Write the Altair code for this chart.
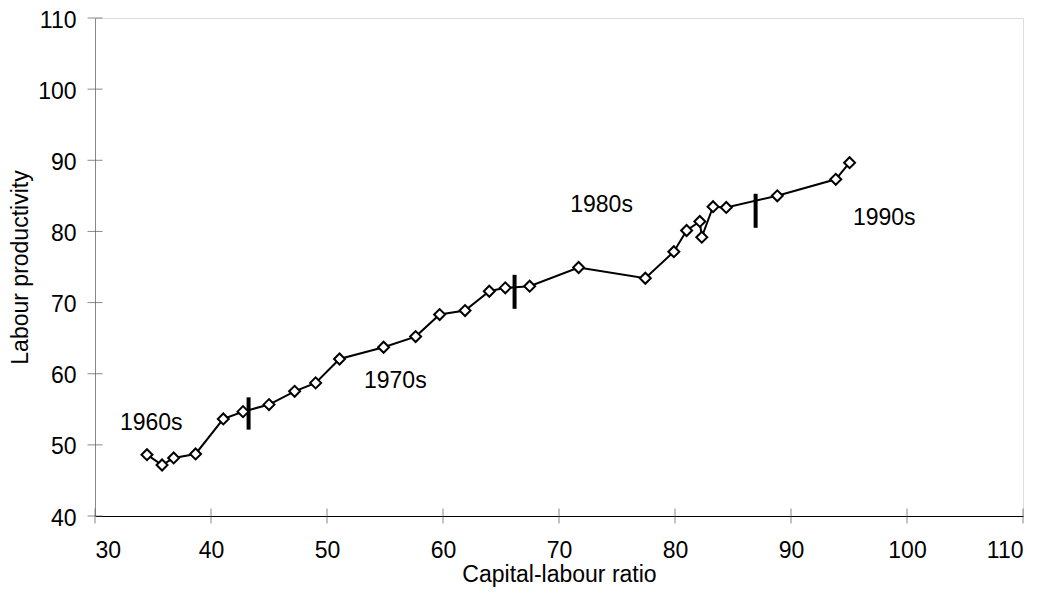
import altair as alt
import pandas as pd

# Capital-labour ratio (x) and labour productivity (y), chronological order
capital = [34.48, 35.78, 36.78, 38.67, 41.06, 42.76, 45.00, 47.21, 49.02, 51.08,
           54.88, 57.64, 59.71, 61.90, 63.99, 65.37, 67.47, 71.69, 77.44, 79.90,
           81.00, 82.14, 82.31, 83.28, 84.42, 88.82, 93.86, 95.05]
productivity = [48.62, 47.17, 48.16, 48.72, 53.64, 54.67, 55.66, 57.53, 58.71, 62.07,
                63.72, 65.22, 68.32, 68.88, 71.59, 72.07, 72.30, 74.93, 73.42, 77.15,
                80.13, 81.40, 79.19, 83.48, 83.37, 85.01, 87.33, 89.66]

# Decade separators
sep_x = [43.24, 66.17, 86.95]
sep_low = [52.14, 69.12, 80.51]
sep_high = [56.68, 73.90, 85.29]

# Decade labels
decade_labels = ["1960s", "1970s", "1980s", "1990s"]
label_x = [34.85, 55.89, 73.67, 98.04]
label_y = [53.12, 58.92, 83.75, 81.82]

x_ticks = [30, 40, 50, 60, 70, 80, 90, 100, 110]
y_ticks = [40, 50, 60, 70, 80, 90, 100, 110]

FONT = "Liberation Sans"
FS = 23

df = pd.DataFrame({"order": list(range(len(capital))), "x": capital, "y": productivity})
sep_df = pd.DataFrame({"x": sep_x, "y": sep_low, "y2": sep_high})
lab_df = pd.DataFrame({"t": decade_labels, "x": label_x, "y": label_y})
xt_df = pd.DataFrame({"x": x_ticks, "y": [y_ticks[0]] * len(x_ticks)})
yt_df = pd.DataFrame({"y": y_ticks, "x": [x_ticks[0]] * len(y_ticks)})

xscale = alt.Scale(domain=[30, 110], nice=False, zero=False)
yscale = alt.Scale(domain=[40, 110], nice=False, zero=False)

xaxis = alt.Axis(values=x_ticks, ticks=False, grid=False, domainColor="black",
                 labelFont=FONT, labelFontSize=FS, labelColor="black", labelPadding=23,
                 title="Capital-labour ratio", titleFont=FONT, titleFontSize=FS,
                 titleFontWeight="normal", titleColor="black", titlePadding=1)
yaxis = alt.Axis(values=y_ticks, ticks=False, grid=False, domainColor="#888888",
                 labelFont=FONT, labelFontSize=FS, labelColor="black", labelPadding=19,
                 labelOffset=2,
                 title="Labour productivity", titleFont=FONT, titleFontSize=FS,
                 titleFontWeight="normal", titleColor="black", titlePadding=5)

base_x = alt.X("x:Q", scale=xscale, axis=xaxis)
base_y = alt.Y("y:Q", scale=yscale, axis=yaxis)

line = alt.Chart(df).mark_line(color="black", strokeWidth=2).encode(
    x=base_x, y=base_y, order="order:Q")
pts = alt.Chart(df).mark_point(shape="diamond", filled=True, fill="white", stroke="black",
                               strokeWidth=2, size=120, opacity=1).encode(
    x=alt.X("x:Q", scale=xscale), y=alt.Y("y:Q", scale=yscale))
seps = alt.Chart(sep_df).mark_rule(color="black", strokeWidth=4).encode(
    x=alt.X("x:Q", scale=xscale), y=alt.Y("y:Q", scale=yscale), y2="y2:Q")
labels = alt.Chart(lab_df).mark_text(font=FONT, fontSize=FS, color="black").encode(
    x=alt.X("x:Q", scale=xscale), y=alt.Y("y:Q", scale=yscale), text="t:N")
xt = alt.Chart(xt_df).mark_tick(orient="vertical", color="#555555", thickness=1, size=15).encode(
    x=alt.X("x:Q", scale=xscale), y=alt.Y("y:Q", scale=yscale))
yt = alt.Chart(yt_df).mark_tick(orient="horizontal", color="#555555", thickness=1, size=15).encode(
    x=alt.X("x:Q", scale=xscale), y=alt.Y("y:Q", scale=yscale))

chart = alt.layer(line, xt, yt, seps, pts, labels).properties(
    width=928, height=498,
    autosize=alt.AutoSizeParams(type="none"),
    padding={"left": 87, "top": 10, "right": 16, "bottom": 72},
).configure_view(stroke=None).configure(background="white")

chart.save("out.html", embed_options={"renderer": "svg", "actions": False})
